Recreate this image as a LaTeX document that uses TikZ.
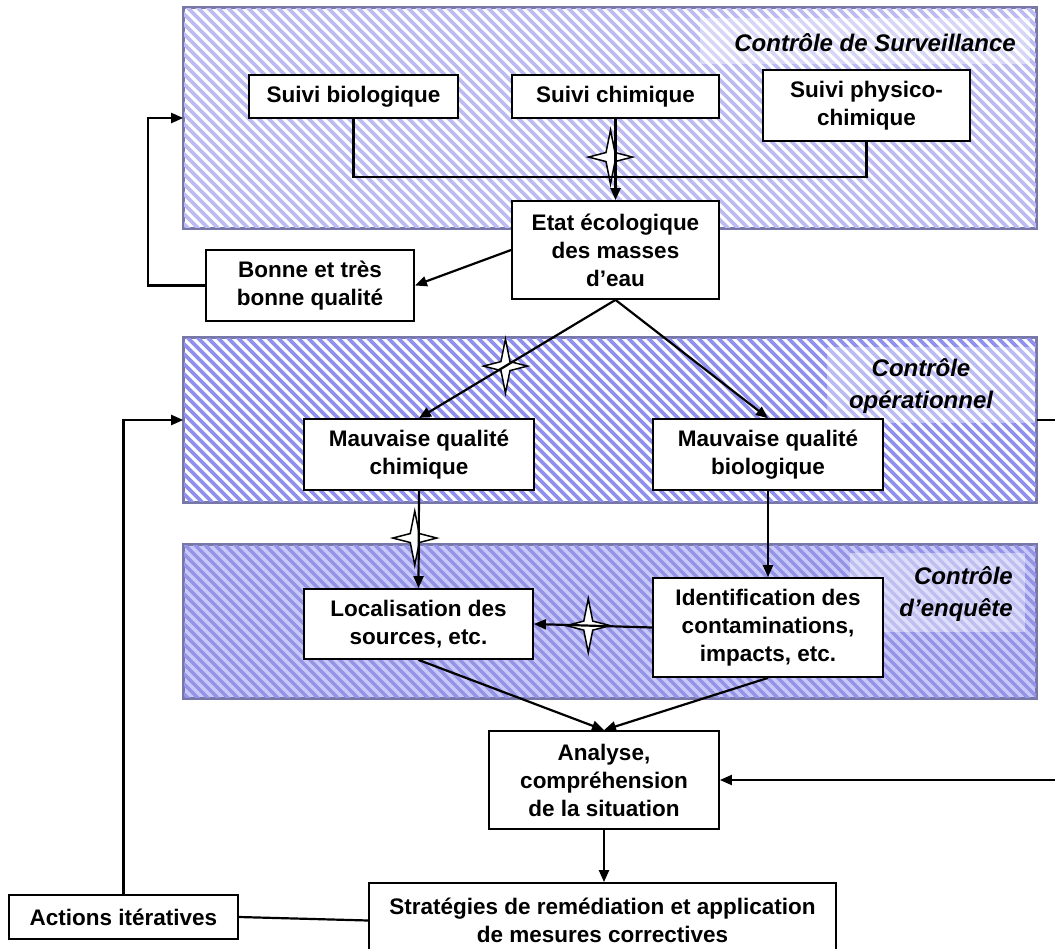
\documentclass[tikz,border=0pt]{standalone}
\usepackage{fontspec}
\setmainfont{Liberation Sans}
\usetikzlibrary{arrows.meta}
\definecolor{panelborder}{HTML}{7878A8}
\definecolor{survstripe}{HTML}{BCBCF2}
\definecolor{operstripe}{HTML}{9090EE}
\definecolor{enqback}{HTML}{C8C8FA}
\definecolor{enqstripe}{HTML}{9494E6}
\begin{document}
\begin{tikzpicture}[x=1pt,y=-1pt,
  box/.style={draw=black,line width=1.8pt,fill=white,align=center,inner sep=2pt,
    font=\fontsize{22.5}{28}\selectfont\bfseries},
  panel/.style={draw=panelborder,line width=1.6pt,minimum width=852pt,inner sep=0pt},
  lab/.style={font=\fontsize{24}{32}\selectfont\bfseries\itshape,inner sep=0pt},
  ln/.style={draw=black,line width=2.2pt},
  arr/.style={ln,-{Triangle[length=12pt,width=10pt]}},
  sparkle/.pic={\draw[fill=white,line width=1.5pt,line join=miter] (0,-27) -- (4.5,-4.5) -- (22,0) -- (4.5,4.5) -- (0,27) -- (-4.5,4.5) -- (-22,0) -- (-4.5,-4.5) -- cycle;}
]
\useasboundingbox (0,0) rectangle (1055,949);
% panels (outlines as nodes, fills as stripes clipped to them)
\node[panel,minimum height=220pt,fill=white] (surv) at (610,118) {};
\node[panel,minimum height=164pt,fill=white] (oper) at (610,420) {};
\node[panel,minimum height=153pt,fill=enqback] (enq) at (610,621.5) {};
\begin{scope}
  \clip (surv.south west) rectangle (surv.north east);
  \foreach \k in {-520,-510,...,1040} \draw[survstripe,line width=3.6pt] (\k,0) -- ++(720,720);
\end{scope}
\begin{scope}
  \clip (oper.south west) rectangle (oper.north east);
  \foreach \k in {-520,-510,...,1040} \draw[operstripe,line width=3.6pt] (\k,0) -- ++(720,720);
\end{scope}
\begin{scope}
  \clip (enq.south west) rectangle (enq.north east);
  \foreach \k in {-520,-510,...,1040} \draw[enqstripe,line width=3.4pt] (\k,0) -- ++(720,720);
\end{scope}
\draw[panelborder,line width=1.6pt] (surv.south west) rectangle (surv.north east);
\draw[panelborder,line width=1.6pt] (oper.south west) rectangle (oper.north east);
\draw[panelborder,line width=1.6pt] (enq.south west) rectangle (enq.north east);
% lighter label areas
\fill[white,opacity=0.4] (700,18) rectangle (1030,64);
\fill[white,opacity=0.4] (827,347) rectangle (1035,423);
\fill[white,opacity=0.4] (850,553) rectangle (1025,632);
% labels
\node[lab,anchor=east] (survlab) at (1016,43) {Contrôle de Surveillance};
\node[lab,align=center] (operlab) at (921,386) {Contrôle\\opérationnel};
\node[lab,align=right,anchor=east] (enqlab) at (1013,594) {Contrôle\\d’enquête};
% boxes
\node[box,minimum width=209pt,minimum height=43pt] (bio) at (353.5,96.5) {Suivi biologique};
\node[box,minimum width=207pt,minimum height=43pt] (chim) at (615.5,96.5) {Suivi chimique};
\node[box,minimum width=207pt,minimum height=71pt] (phys) at (866.5,105.5) {Suivi physico-\\chimique};
\node[box,minimum width=207pt,minimum height=98pt] (etat) at (615.5,250) {Etat écologique\\des masses\\d’eau};
\node[box,minimum width=208pt,minimum height=71pt] (bonne) at (310,285.5) {Bonne et très\\bonne qualité};
\node[box,minimum width=230pt,minimum height=71pt] (mchim) at (419,454.5) {Mauvaise qualité\\chimique};
\node[box,minimum width=230pt,minimum height=71pt] (mbio) at (768,454.5) {Mauvaise qualité\\biologique};
\node[box,minimum width=229pt,minimum height=70pt] (loc) at (418.5,624) {Localisation des\\sources, etc.};
\node[box,minimum width=230pt,minimum height=99pt] (ident) at (768,627.5) {Identification des\\contaminations,\\impacts, etc.};
\node[box,minimum width=230pt,minimum height=98pt] (analyse) at (604,780) {Analyse,\\compréhension\\de la situation};
\node[box,minimum width=467pt,minimum height=75pt] (strat) at (602.5,920.5) {Stratégies de remédiation et application\\de mesures correctives};
\node[box,minimum width=229pt,minimum height=44pt] (actions) at (123.5,917) {Actions itératives};
% sparkles on connectors
\path (chim.south) -- (etat.north) coordinate[pos=0.47] (s1);
\path (etat.south) -- (mchim.north) coordinate[pos=0.56] (s2);
\path (mchim.south) -- (loc.north) coordinate[pos=0.485] (s3);
\path (ident.west) -- (loc.east) coordinate[pos=0.54] (s4);
\pic at ([xshift=-5pt]s1) {sparkle};
\pic at (s2) {sparkle};
\pic at ([xshift=-4pt]s3) {sparkle};
\pic at (s4) {sparkle};
% connectors
\draw[ln] (bio.south) -- ++(0,58) -| (phys.south);
\draw[arr] (chim.south) -- (etat.north);
\draw[arr] (etat.west) -- (bonne.east);
\draw[arr] (bonne.west) -- ++(-57,0) |- (surv.west);
\draw[arr] (etat.south) -- (mchim.north);
\draw[arr] (etat.south) -- (mbio.north);
\draw[arr] (mchim.south) -- (loc.north);
\draw[arr] (mbio.south) -- (ident.north);
\draw[arr] (ident.west) -- (loc.east);
\draw[arr] (loc.south) -- (analyse.north);
\draw[arr] (ident.south) -- (analyse.north);
\draw[arr] (analyse.south) -- (analyse.south |- strat.north);
\draw[arr] (oper.east) -- ++(40,0) |- (analyse.east);
\draw[arr] (actions.north) |- (oper.west);
\draw[ln] (actions.east) -- (strat.west);
\end{tikzpicture}
\end{document}
